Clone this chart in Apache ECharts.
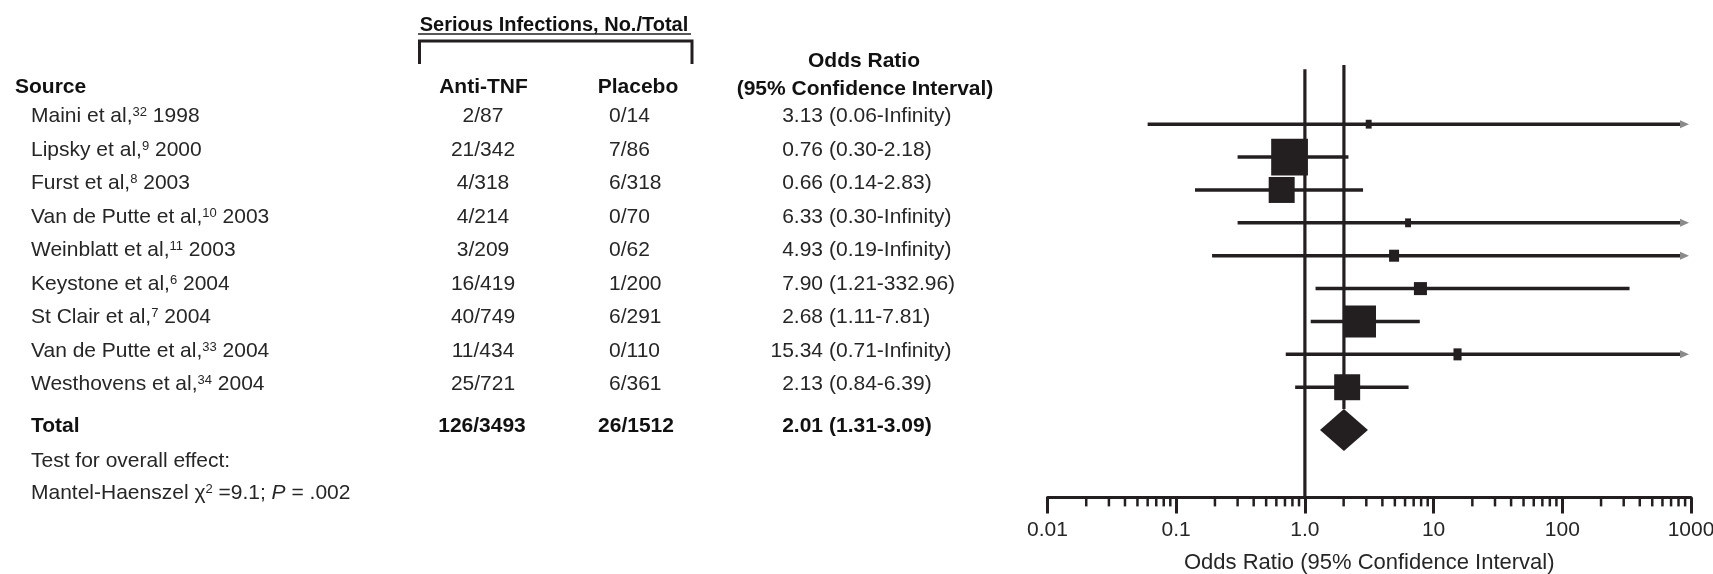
<!DOCTYPE html>
<html>
<head>
<meta charset="utf-8">
<script src="https://cdn.jsdelivr.net/npm/echarts@6/dist/echarts.min.js"></script>
<style>
  html, body { margin: 0; padding: 0; background: #fff; }
  #chart { width: 1713px; height: 574px; }
</style>
</head>
<body>
<div id="chart"></div>
<script>
// Trials of anti-TNF therapy: serious infections, odds ratios with 95% CI
const studies  = ['Maini et al', 'Lipsky et al', 'Furst et al', 'Van de Putte et al', 'Weinblatt et al',
                  'Keystone et al', 'St Clair et al', 'Van de Putte et al', 'Westhovens et al'];
const refs     = ['32', '9', '8', '10', '11', '6', '7', '33', '34'];
const years    = ['1998', '2000', '2003', '2003', '2003', '2004', '2004', '2004', '2004'];
const antiTnf  = ['2/87', '21/342', '4/318', '4/214', '3/209', '16/419', '40/749', '11/434', '25/721'];
const placebo  = ['0/14', '7/86', '6/318', '0/70', '0/62', '1/200', '6/291', '0/110', '6/361'];
const oddsRatio = [3.13, 0.76, 0.66, 6.33, 4.93, 7.90, 2.68, 15.34, 2.13];
const ciLow     = [0.06, 0.30, 0.14, 0.30, 0.19, 1.21, 1.11, 0.71, 0.84];
const ciHigh    = [Infinity, 2.18, 2.83, Infinity, Infinity, 332.96, 7.81, Infinity, 6.39];
const weights   = [0.8, 31, 15.5, 0.8, 2.3, 3.9, 23.5, 1.5, 15.5];   // % weight of each trial

const totalLabel   = 'Total';
const totalAnti    = '126/3493';
const totalPlacebo = '26/1512';
const pooledOR     = 2.01;
const pooledLow    = 1.31;
const pooledHigh   = 3.09;

const tickValues = [0.01, 0.1, 1, 10, 100, 1000];
const tickLabels = ['0.01', '0.1', '1.0', '10', '100', '1000'];

// ---- layout / style constants ----
const FONT = '"Liberation Sans", Arial, Helvetica, sans-serif';
const INK = '#231f20';
const TEXT = '#262626';
const X_MIN = 0.01, X_MAX = 1000;
const Y_MIN = -1.8, Y_MAX = 11.35;          // plot rows
const T_MIN = -1.543, T_MAX = 11.364;       // table text rows (slightly looser spacing)
const TOTAL_Y = 9.3;
const TOTAL_TEXT_Y = 9.23;
const DIAMOND_HALF = 21;

const COL_NAME = 31, COL_ANTI = 483, COL_PLAC = 609, COL_PLAC_TOTAL = 636, COL_EST = 823, COL_CI = 829;

function markerSize(w) {
  const s = 6.6 * Math.sqrt(w);
  return [s, Math.max(s, Math.min(12, s * 1.5))];
}

const chart = echarts.init(document.getElementById('chart'), null, { renderer: 'canvas' });

const supRich = { sup: { fontSize: 13, fontFamily: FONT, fill: TEXT, verticalAlign: 'top', padding: [0, 0, 8, 0] } };

function txt(x, y, text, opts) {
  return {
    type: 'text', x: x, y: y,
    style: Object.assign({
      text: text, fill: TEXT, fontSize: 21, fontFamily: FONT,
      align: 'left', verticalAlign: 'middle'
    }, opts || {})
  };
}

const minorTicks = [];
for (let d = -2; d < 3; d++) {
  for (let m = 2; m <= 9; m++) minorTicks.push([m * Math.pow(10, d), Y_MAX]);
}

const option = {
  animation: false,
  grid: { left: 1047.5, right: 22, top: 65, bottom: 76.6, containLabel: false, outerBoundsMode: 'none' },
  xAxis: {
    type: 'log', logBase: 10, min: X_MIN, max: X_MAX,
    splitLine: { show: false },
    axisLine: { show: true, onZero: false, lineStyle: { color: INK, width: 3 } },
    axisTick: { show: true, length: 16, lineStyle: { color: INK, width: 3 } },
    minorTick: { show: false },
    axisLabel: {
      margin: 22, color: TEXT, fontSize: 21, fontFamily: FONT,
      formatter: function (v) {
        const k = tickValues.findIndex(t => Math.abs(Math.log10(t) - Math.log10(v)) < 1e-6);
        return k >= 0 ? tickLabels[k] : '';
      }
    },
    name: 'Odds Ratio (95% Confidence Interval)',
    nameLocation: 'middle', nameGap: 55,
    nameTextStyle: { color: TEXT, fontSize: 22, fontFamily: FONT }
  },
  yAxis: [
    { type: 'value', inverse: true, min: Y_MIN, max: Y_MAX, show: false },
    { type: 'value', inverse: true, min: T_MIN, max: T_MAX, show: false }
  ],
  graphic: [
    txt(554, 25, 'Serious Infections, No./Total', { fontWeight: 'bold', fontSize: 20, align: 'center', fill: '#111' }),
    { type: 'line', shape: { x1: 418, y1: 34, x2: 691, y2: 34 }, style: { stroke: INK, lineWidth: 1.5 } },
    { type: 'polyline', shape: { points: [[419.5, 64], [419.5, 41], [692, 41], [692, 64]] },
      style: { stroke: INK, lineWidth: 3, fill: null } },
    txt(15, 87, 'Source', { fontWeight: 'bold', fill: '#111' }),
    txt(483.5, 87, 'Anti-TNF', { fontWeight: 'bold', align: 'center', fill: '#111' }),
    txt(638, 87, 'Placebo', { fontWeight: 'bold', align: 'center', fill: '#111' }),
    txt(864, 61, 'Odds Ratio', { fontWeight: 'bold', align: 'center', fill: '#111' }),
    txt(865, 89, '(95% Confidence Interval)', { fontWeight: 'bold', align: 'center', fill: '#111' }),
    txt(COL_NAME, 461, 'Test for overall effect:'),
    txt(COL_NAME, 493, 'Mantel-Haenszel χ{sup|2} =9.1; {it|P} = .002', {
      rich: Object.assign({ it: { fontStyle: 'italic', fontSize: 21, fontFamily: FONT, fill: TEXT } }, supRich)
    })
  ],
  series: [
    // null-effect reference line at OR = 1
    {
      type: 'custom', silent: true, z: 2,
      data: [[1, Y_MAX]],
      renderItem: function (params, api) {
        const top = api.coord([1, -1.67]);
        const bot = api.coord([1, Y_MAX]);
        return { type: 'line', shape: { x1: top[0], y1: top[1], x2: bot[0], y2: bot[1] },
                 style: { stroke: INK, lineWidth: 3.2 } };
      }
    },
    // minor ticks of the log axis
    {
      type: 'custom', silent: true, z: 2,
      data: minorTicks,
      renderItem: function (params, api) {
        const p = api.coord([api.value(0), Y_MAX]);
        return { type: 'line', shape: { x1: p[0], y1: p[1], x2: p[0], y2: p[1] + 9 },
                 style: { stroke: INK, lineWidth: 2.5 } };
      }
    },
    // study confidence intervals and weighted squares
    {
      type: 'custom', silent: true, z: 3,
      data: oddsRatio.map((v, i) => [v, i]),
      renderItem: function (params, api) {
        const i = params.dataIndex;
        const c = api.coord([oddsRatio[i], i]);
        const y = c[1];
        const xLo = api.coord([ciLow[i], i])[0];
        const open = !isFinite(ciHigh[i]);
        const xEnd = api.coord([X_MAX, i])[0];
        const xHi = open ? xEnd - 9 : api.coord([ciHigh[i], i])[0];
        const sz = markerSize(weights[i]);
        const kids = [
          { type: 'line', shape: { x1: xLo, y1: y, x2: xHi, y2: y }, style: { stroke: INK, lineWidth: 3.5 } },
          { type: 'rect', shape: { x: c[0] - sz[0] / 2, y: y - sz[1] / 2, width: sz[0], height: sz[1] },
            style: { fill: INK } }
        ];
        if (open) {
          kids.push({ type: 'polygon', shape: { points: [[xEnd - 11, y - 4], [xEnd - 2, y], [xEnd - 11, y + 4]] },
                      style: { fill: '#8a8a8a' } });
        }
        return { type: 'group', children: kids };
      }
    },
    // pooled estimate: vertical line and diamond
    {
      type: 'custom', silent: true, z: 3,
      data: [[pooledOR, TOTAL_Y]],
      renderItem: function (params, api) {
        const c = api.coord([pooledOR, TOTAL_Y]);
        const lo = api.coord([pooledLow, TOTAL_Y]);
        const hi = api.coord([pooledHigh, TOTAL_Y]);
        const top = api.coord([pooledOR, Y_MIN]);
        return { type: 'group', children: [
          { type: 'line', shape: { x1: c[0], y1: top[1], x2: c[0], y2: c[1] - DIAMOND_HALF },
            style: { stroke: INK, lineWidth: 3.2 } },
          { type: 'polygon', shape: { points: [[lo[0], c[1]], [c[0], c[1] - DIAMOND_HALF], [hi[0], c[1]], [c[0], c[1] + DIAMOND_HALF]] },
            style: { fill: INK } }
        ] };
      }
    },
    // table text for each trial row
    {
      type: 'custom', silent: true, z: 4, yAxisIndex: 1,
      data: oddsRatio.map((v, i) => [1, i]),
      renderItem: function (params, api) {
        const i = params.dataIndex;
        const y = api.coord([1, i])[1];
        const ci = '(' + ciLow[i].toFixed(2) + '-' + (isFinite(ciHigh[i]) ? ciHigh[i].toFixed(2) : 'Infinity') + ')';
        return { type: 'group', children: [
          txt(COL_NAME, y, studies[i] + ',{sup|' + refs[i] + '} ' + years[i], { rich: supRich }),
          txt(COL_ANTI, y, antiTnf[i], { align: 'center' }),
          txt(COL_PLAC, y, placebo[i]),
          txt(COL_EST, y, oddsRatio[i].toFixed(2), { align: 'right' }),
          txt(COL_CI, y, ci)
        ] };
      }
    },
    // total row text
    {
      type: 'custom', silent: true, z: 4, yAxisIndex: 1,
      data: [[1, TOTAL_TEXT_Y]],
      renderItem: function (params, api) {
        const y = api.coord([1, TOTAL_TEXT_Y])[1];
        const b = { fontWeight: 'bold', fill: '#111' };
        return { type: 'group', children: [
          txt(COL_NAME, y, totalLabel, b),
          txt(COL_ANTI - 1, y, totalAnti, Object.assign({ align: 'center' }, b)),
          txt(COL_PLAC_TOTAL, y, totalPlacebo, Object.assign({ align: 'center' }, b)),
          txt(COL_EST, y, pooledOR.toFixed(2), Object.assign({ align: 'right' }, b)),
          txt(COL_CI, y, '(' + pooledLow.toFixed(2) + '-' + pooledHigh.toFixed(2) + ')', b)
        ] };
      }
    }
  ]
};

chart.setOption(option);
</script>
</body>
</html>
